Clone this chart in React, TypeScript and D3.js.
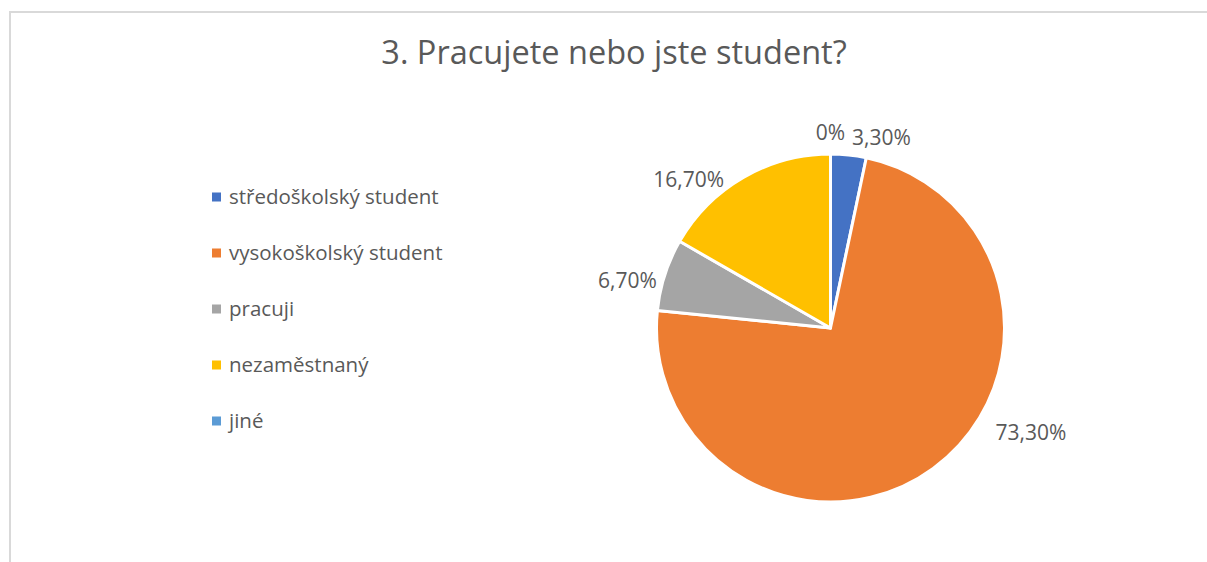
import React from "react";
import * as d3 from "d3";

const categories = ["středoškolský student", "vysokoškolský student", "pracuji", "nezaměstnaný", "jiné"];
const values = [3.3, 73.3, 6.7, 16.7, 0];
const valueLabels = ["3,30%", "73,30%", "6,70%", "16,70%", "0%"];
const colors = ["#4472C4", "#ED7D31", "#A5A5A5", "#FFC000", "#5B9BD5"];
const title = "3. Pracujete nebo jste student?";

// label placement tweaks (layout only), relative to point just outside each slice
const labelOffsets: [number, number][] = [
  [30.7, 11.9],
  [84.7, -46.2],
  [-16.4, 19.9],
  [-43.7, 28.6],
  [0, 8],
];

const W = 1207;
const H = 562;
const FONT = "'Open Sans', 'Noto Sans', sans-serif";
const TEXT = "#595959";

export default function App() {
  const cx = 830.5;
  const cy = 328;
  const r = 174;
  const pie = d3.pie<number>().sort(null).value((d) => d)(values);
  const arc = d3.arc<d3.PieArcDatum<number>>().innerRadius(0).outerRadius(r);
  const outer = (a: number, rr: number) => [Math.sin(a) * rr, -Math.cos(a) * rr];

  return (
    <svg
      width={W}
      height={H}
      style={{ position: "absolute", left: 0, top: 0, background: "#fff" }}
      fontFamily={FONT}
    >
      <rect x={0} y={0} width={W} height={H} fill="#fff" />
      <path d={`M10,${H} L10,12 L${W},12`} fill="none" stroke="#D9D9D9" strokeWidth={2} />
      <text x={614} y={64} textAnchor="middle" fontSize={32.5} fill={TEXT}>
        {title}
      </text>
      <g transform={`translate(${cx},${cy})`}>
        {pie.map((p, i) => (
          <path key={i} d={arc(p) || ""} fill={colors[i]} stroke="#fff" strokeWidth={3} strokeLinejoin="round" />
        ))}
        {pie.map((p, i) => {
          const mid = (p.startAngle + p.endAngle) / 2;
          const [ox, oy] = outer(mid, r + 22);
          return (
            <text
              key={"l" + i}
              x={ox + labelOffsets[i][0]}
              y={oy + labelOffsets[i][1]}
              textAnchor="middle"
              fontSize={21}
              fill={TEXT}
            >
              {valueLabels[i]}
            </text>
          );
        })}
      </g>
      <g>
        {categories.map((c, i) => (
          <g key={c} transform={`translate(212,${197 + i * 56})`}>
            <rect x={0} y={-4.5} width={9} height={9} fill={colors[i]} />
            <text x={17} y={6.5} fontSize={20.5} fill={TEXT}>
              {c}
            </text>
          </g>
        ))}
      </g>
    </svg>
  );
}
